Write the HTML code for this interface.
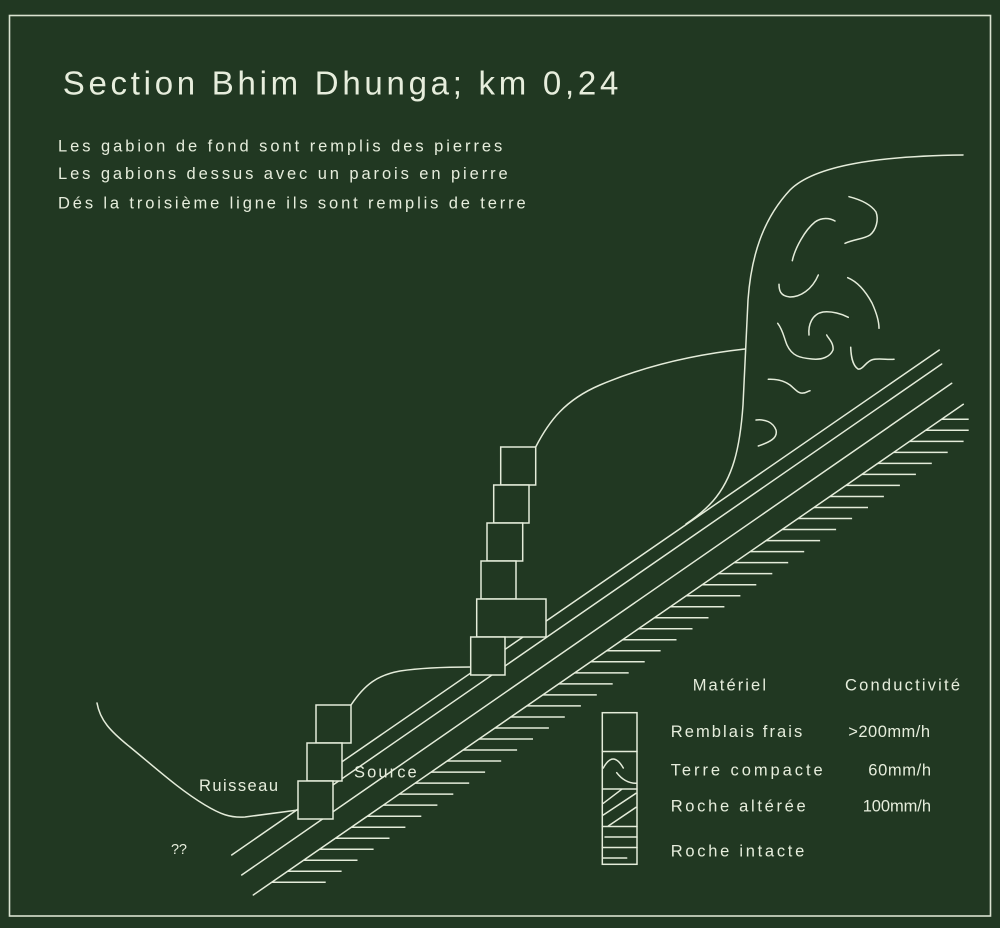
<!DOCTYPE html>
<html>
<head>
<meta charset="utf-8">
<style>
  html, body { margin:0; padding:0; background:#213822; }
  body { width:1000px; height:928px; overflow:hidden; }
  svg { display:block; }
  text { font-family:"Liberation Sans", sans-serif; fill:#e6eddc; }
</style>
</head>
<body>
<svg width="1000" height="928" viewBox="0 0 1000 928" xmlns="http://www.w3.org/2000/svg">
  <rect x="0" y="0" width="1000" height="928" fill="#213822"/>
  <!-- frame -->
  <rect x="9.5" y="15.5" width="981" height="900.5" fill="none" stroke="#d9e2d0" stroke-width="1.6"/>

  <!-- texts -->
  <text x="62.7" y="94.3" font-size="33" textLength="555.6" lengthAdjust="spacing">Section Bhim Dhunga; km 0,24</text>
  <text x="58" y="151.7" font-size="16.5" textLength="444.3" lengthAdjust="spacing">Les gabion de fond sont remplis des pierres</text>
  <text x="58" y="179" font-size="16.5" textLength="449.7" lengthAdjust="spacing">Les gabions dessus avec un parois en pierre</text>
  <text x="58" y="208.3" font-size="16.5" textLength="467.7" lengthAdjust="spacing">Dés la troisième ligne ils sont remplis de terre</text>

  <g fill="none" stroke="#e4ecda" stroke-width="1.5" stroke-linecap="round" stroke-linejoin="round">
    <!-- big outer curve -->
    <path d="M963,155 C880,156 815,165 790,190 C762,220 751,258 748,300 L743,405 C740,448 733,478 713,501 C704,511 695,518 686,524"/>
    <!-- upper connector -->
    <path d="M535.7,447 C549,421 565,400 600,385 C640,368 690,355 745,349"/>
    <!-- lower connector -->
    <path d="M351,705 C365,684 378,675 400,671 C420,668 445,667 471,667"/>
    <!-- ruisseau curve -->
    <path d="M97,703 C100,720 110,731 130,747 C158,770 180,790 205,805 C220,814 230,818 245,817 L298,810"/>

    <!-- squiggles -->
    <path d="M792.3,260.7 C795,248 805,230 815,222 C822,217 830,218 835,221"/>
    <path d="M849,196.7 C858,199 870,203 876,212 C879,220 876,230 870,235 C864,239 855,239 845,243.3"/>
    <path d="M779,284.3 C779,290 780,296 790,297 C800,297 812,290 818.3,275"/>
    <path d="M847.7,277.7 C858,282 866,292 872,303 C877,314 879,322 879,328.3"/>
    <path d="M809,335 C808,325 812,314 823,312 C832,311 842,314 848.3,317.3"/>
    <path d="M777.7,323.3 C783,330 784,338 787,345 C792,356 800,358 812,359 C822,360 830,357 833,350 C834,343 828,338 826.7,335"/>
    <path d="M850.7,347.3 C851,355 852,365 858,369 C863,370 866,361 873,359.5 C880,358 888,360 894,359.3"/>
    <path d="M768.3,379.3 C775,379 783,380 790,385 C796,390 799,394 803,393 C806,393 808,391 810,390.7"/>
    <path d="M756,420 C765,419 773,422 776,430 C778,438 770,442 758.3,446"/>

    <!-- slope lines -->
    <line x1="335" y1="766.6" x2="939.3" y2="350"/>
    <line x1="231.7" y1="855" x2="941.7" y2="364"/>
    <line x1="241.7" y1="875" x2="951.7" y2="383.3"/>
    <line x1="253.3" y1="895" x2="963.3" y2="404.3"/>

    <!-- hatches -->
    <path stroke-linecap="butt" d="
      M941.6,419.3H968.7 M925.7,430.3H968.7 M909.6,441.4H963.6 M893.7,452.4H947.7
      M877.8,463.4H931.8 M861.9,474.4H915.9 M845.9,485.4H899.9 M829.9,496.5H883.9
      M814.0,507.5H868.0 M798.1,518.5H852.1 M782.1,529.5H836.1 M766.1,540.6H820.1
      M750.2,551.6H804.2 M734.2,562.6H788.2 M718.3,573.6H772.3 M702.3,584.7H756.3
      M686.4,595.7H740.4 M670.4,606.7H724.4 M654.5,617.7H708.5 M638.5,628.8H692.5
      M622.5,639.8H676.5 M606.6,650.8H660.6 M590.7,661.8H644.7 M574.7,672.9H628.7
      M558.7,683.9H612.7 M542.8,694.9H596.8 M526.9,705.9H580.9 M510.8,717.0H564.8
      M494.9,728.0H548.9 M479.0,739.0H533.0 M463.1,750.0H517.1 M447.2,761.0H501.2
      M431.1,772.1H485.1 M415.2,783.1H469.2 M399.3,794.1H453.3 M383.4,805.1H437.4
      M367.3,816.2H421.3 M351.4,827.2H405.4 M335.5,838.2H389.5 M319.6,849.2H373.6
      M303.5,860.3H357.5 M287.6,871.3H341.6 M271.7,882.3H325.7"/>
  </g>

  <!-- gabion boxes (filled to hide lines) -->
  <g fill="#213822" stroke="#e4ecda" stroke-width="1.5">
    <rect x="500.7" y="447" width="35" height="38"/>
    <rect x="493.7" y="485" width="35.3" height="38"/>
    <rect x="487" y="523" width="35.7" height="38"/>
    <rect x="481" y="561" width="35" height="38"/>
    <rect x="476.7" y="599" width="69.3" height="38"/>
    <rect x="470.7" y="637" width="34.3" height="38"/>

    <rect x="316" y="705" width="35" height="38"/>
    <rect x="307" y="743" width="35" height="38"/>
    <rect x="298" y="781" width="35" height="38"/>
  </g>

  <!-- bottom-left labels -->
  <text x="199" y="791" font-size="16.5" textLength="79" lengthAdjust="spacing">Ruisseau</text>
  <text x="354" y="777.7" font-size="16.5" textLength="62.7" lengthAdjust="spacing">Source</text>
  <text x="171" y="854" font-size="14.5" textLength="16" lengthAdjust="spacing">??</text>

  <!-- legend column -->
  <g fill="none" stroke="#e4ecda" stroke-width="1.5" stroke-linecap="round">
    <rect x="602.3" y="712.7" width="34.7" height="151.6"/>
    <line x1="602.3" y1="751.5" x2="637" y2="751.5"/>
    <line x1="602.3" y1="789" x2="637" y2="789"/>
    <line x1="602.3" y1="826.5" x2="637" y2="826.5"/>
    <line x1="605" y1="837" x2="637" y2="837"/>
    <line x1="602.3" y1="847.5" x2="637" y2="847.5"/>
    <line x1="603" y1="858" x2="626.7" y2="858"/>
    <path d="M603.3,768 Q613,750 623.3,768"/>
    <path d="M616.7,772.7 Q625,783.5 636.7,783.3"/>
    <line x1="603.3" y1="803.3" x2="621.7" y2="789.3"/>
    <line x1="603.3" y1="815" x2="636" y2="793.3"/>
    <line x1="608.3" y1="826" x2="636" y2="807.3"/>
  </g>

  <!-- legend text -->
  <text x="692.7" y="690.7" font-size="16.5" textLength="73.3" lengthAdjust="spacing">Matériel</text>
  <text x="845" y="690.7" font-size="16.5" textLength="115" lengthAdjust="spacing">Conductivité</text>
  <text x="670.7" y="737" font-size="16.5" textLength="131.6" lengthAdjust="spacing">Remblais frais</text>
  <text x="848.3" y="737" font-size="16.5" textLength="81.7" lengthAdjust="spacing">&gt;200mm/h</text>
  <text x="670.7" y="775.7" font-size="16.5" textLength="152" lengthAdjust="spacing">Terre compacte</text>
  <text x="868.3" y="775.7" font-size="16.5" textLength="62.7" lengthAdjust="spacing">60mm/h</text>
  <text x="670.7" y="811.7" font-size="16.5" textLength="135" lengthAdjust="spacing">Roche altérée</text>
  <text x="862.7" y="811.7" font-size="16.5" textLength="68.3" lengthAdjust="spacing">100mm/h</text>
  <text x="670.7" y="856.7" font-size="16.5" textLength="133.6" lengthAdjust="spacing">Roche intacte</text>
</svg>
</body>
</html>
